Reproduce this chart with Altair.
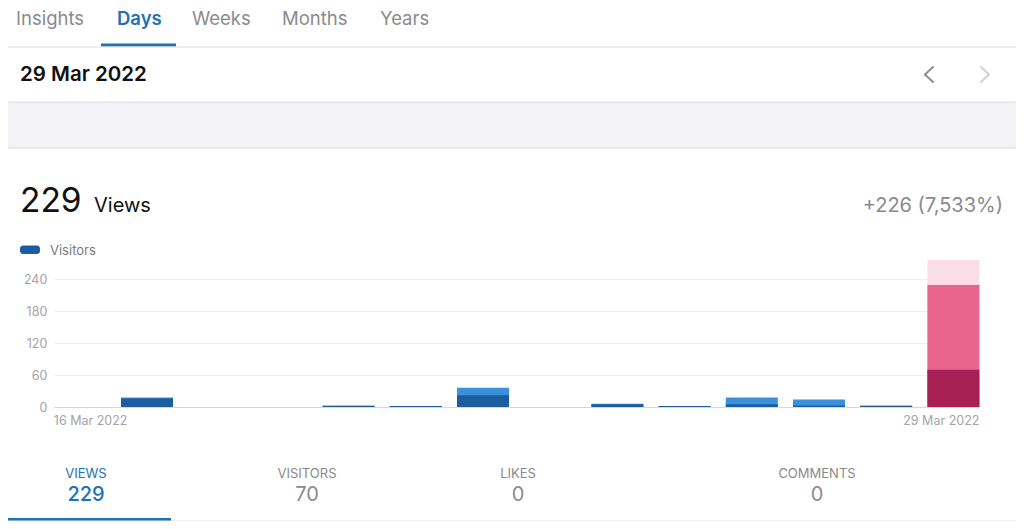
import altair as alt
import pandas as pd

# ---------------- data ----------------
days = ["16 Mar", "17 Mar", "18 Mar", "19 Mar", "20 Mar", "21 Mar", "22 Mar",
        "23 Mar", "24 Mar", "25 Mar", "26 Mar", "27 Mar", "28 Mar", "29 Mar"]
views = [0, 18, 0, 0, 3, 2, 36, 0, 6, 2, 18, 14, 3, 229]
visitors = [0, 16, 0, 0, 2, 2, 22, 0, 5, 2, 5, 3, 2, 70]
highlight = [0, 0, 0, 0, 0, 0, 0, 0, 0, 0, 0, 0, 0, 276]
selected_day = "29 Mar"
y_ticks = [0, 60, 120, 180, 240]
first_label = "16 Mar 2022"
last_label = "29 Mar 2022"

tabs = ["Insights", "Days", "Weeks", "Months", "Years"]
date_title = "29 Mar 2022"
big_number = "229"
big_label = "Views"
change_text = "+226 (7,533%)"
legend_label = "Visitors"
summary_labels = ["VIEWS", "VISITORS", "LIKES", "COMMENTS"]
summary_values = ["229", "70", "0", "0"]

# ---------------- layout ----------------
FONT = "Inter"
M = 8
PL = 53.8 - M
W = 925.6
PR = 1008 - PL - W
H = 146.9
PT = 407 - M - H
PB = 513 - PT - H


def X(p):
    return p - M - PL


def Y(p):
    return p - M - PT


BLUE_L = "#3b90da"
BLUE_D = "#1c5c9f"
PINK_M = "#e9658f"
PINK_D = "#a92154"
PINK_L = "#fbdde7"
ACCENT = "#2271b3"
GRAY_T = "#8a8a8e"

df = pd.DataFrame({"day": days, "views": views, "visitors": visitors,
                   "highlight": highlight})
dummy = pd.DataFrame({"a": [0]})

x_enc = alt.X("day:O", sort=days,
              scale=alt.Scale(paddingInner=0.226, paddingOuter=0),
              axis=alt.Axis(labels=False, ticks=False, title=None,
                            domain=True, domainColor="#d8d8d8", grid=False))
y_scale = alt.Scale(domain=[0, 276], nice=False)
y_axis = alt.Axis(values=y_ticks, grid=True, gridColor="#ededed", domain=False,
                  ticks=False, labelColor="#a4a4a8", labelFontSize=12.5,
                  labelFont=FONT, labelPadding=7, title=None, labelOverlap=False)

base = alt.Chart(df).encode(x=x_enc)

hl = base.transform_filter(alt.datum.highlight > 0).mark_bar(color=PINK_L).encode(
    y=alt.Y("highlight:Q", scale=y_scale, axis=y_axis, stack=None))
vb = base.mark_bar().encode(
    y=alt.Y("views:Q", scale=y_scale, axis=y_axis, stack=None),
    color=alt.condition(alt.datum.day == selected_day, alt.value(PINK_M), alt.value(BLUE_L)))
vs = base.mark_bar().encode(
    y=alt.Y("visitors:Q", scale=y_scale, axis=y_axis, stack=None),
    color=alt.condition(alt.datum.day == selected_day, alt.value(PINK_D), alt.value(BLUE_D)))

lab_df_first = pd.DataFrame({"day": [days[0]], "t": [first_label]})
lab_df_last = pd.DataFrame({"day": [days[-1]], "t": [last_label]})
lab1 = alt.Chart(lab_df_first).mark_text(align="left", baseline="alphabetic", font=FONT,
                                         fontSize=12.5, color="#a4a4a8").encode(
    x=alt.X("day:O", sort=days, bandPosition=0), y=alt.value(Y(425)), text="t:N")
lab2 = alt.Chart(lab_df_last).mark_text(align="right", baseline="alphabetic", font=FONT,
                                        fontSize=12.5, color="#a4a4a8").encode(
    x=alt.X("day:O", sort=days, bandPosition=1), y=alt.value(Y(425)), text="t:N")


def txt(s, x, y, size, color, align="left", weight="normal"):
    return alt.Chart(dummy).mark_text(text=s, align=align, baseline="alphabetic",
                                      font=FONT, fontSize=size, color=color,
                                      fontWeight=weight).encode(
        x=alt.value(X(x)), y=alt.value(Y(y)))


def box(x1, y1, x2, y2, color):
    return alt.Chart(dummy).mark_rect(color=color).encode(
        x=alt.value(X(x1)), x2=alt.value(X(x2)),
        y=alt.value(Y(y1)), y2=alt.value(Y(y2)))


def seg(x1, y1, x2, y2, color, w=2):
    return alt.Chart(dummy).mark_rule(color=color, strokeWidth=w, strokeCap="round").encode(
        x=alt.value(X(x1)), x2=alt.value(X(x2)),
        y=alt.value(Y(y1)), y2=alt.value(Y(y2)))


ui = []
tab_x = [16, 117, 192, 282, 380]
for t, xx in zip(tabs, tab_x):
    if t == "Days":
        ui.append(txt(t, xx, 25, 18.5, ACCENT, weight=600))
    else:
        ui.append(txt(t, xx, 25, 18.5, GRAY_T))
ui.append(box(101, 43.5, 176, 46.5, ACCENT))
ui.append(box(0, 46.5, 1030, 47.5, "#dedede"))
ui.append(txt(date_title, 20, 81, 20.5, "#111111", weight=600))
ui.append(seg(933, 67, 925, 74.5, "#8e8e93"))
ui.append(seg(925, 74.5, 933, 82, "#8e8e93"))
ui.append(seg(981, 67, 989, 74.5, "#d1d1d6"))
ui.append(seg(989, 74.5, 981, 82, "#d1d1d6"))
ui.append(box(0, 102, 1030, 148, "#f2f2f7"))
ui.append(box(0, 101.5, 1030, 102.5, "#dcdcdc"))
ui.append(box(0, 147.5, 1030, 148.5, "#dcdcdc"))
ui.append(txt(big_number, 20, 212, 33.5, "#111111"))
ui.append(txt(big_label, 94, 212, 20, "#111111"))
ui.append(txt(change_text, 1003, 212, 20, GRAY_T, align="right"))
ui.append(alt.Chart(dummy).mark_rect(color=BLUE_D, cornerRadius=3).encode(
    x=alt.value(X(20)), x2=alt.value(X(40)), y=alt.value(Y(245.5)), y2=alt.value(Y(254))))
ui.append(txt(legend_label, 50, 255, 13, "#7b7b7f"))
sum_x = [86, 307, 518, 817]
for i, (l, v, xx) in enumerate(zip(summary_labels, summary_values, sum_x)):
    c = ACCENT if i == 0 else GRAY_T
    ui.append(txt(l, xx, 478, 13, c, align="center"))
    ui.append(txt(v, xx, 501, 20, c, align="center", weight=500 if i == 0 else "normal"))
ui.append(box(0, 518, 171, 521, ACCENT))
ui.append(box(0, 520.5, 1030, 521.5, "#e2e2e2"))

chart = alt.layer(hl, vb, vs, lab1, lab2, *ui).properties(
    width=W, height=H,
    autosize=alt.AutoSizeParams(type="none"),
    padding={"left": PL, "right": PR, "top": PT, "bottom": PB},
    background="white",
).configure_view(stroke=None)

chart.save("out.html", embed_options={"renderer": "svg", "actions": False})
